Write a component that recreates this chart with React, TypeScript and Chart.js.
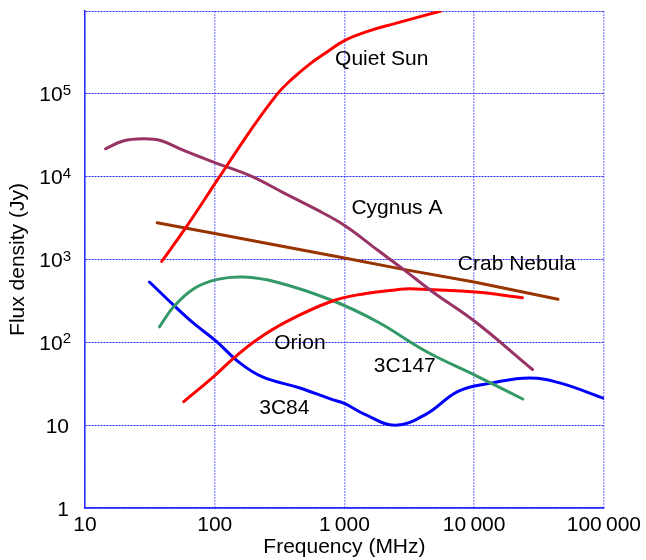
import React, { useEffect, useRef } from "react";
import { Chart, registerables } from "chart.js";

Chart.register(...registerables);

const FONT = '"Liberation Sans", Arial, Helvetica, sans-serif';

// Axis ticks
const xTicks = [10, 100, 1000, 10000, 100000];
const xTickLabels = ["10", "100", "1\u2009000", "10\u2009000", "100\u2009000"];
const yTicks = [1, 10, 100, 1000, 10000, 100000, 1000000];
const yTickBase = ["1", "10", "10", "10", "10", "10", ""];
const yTickExp = ["", "", "2", "3", "4", "5", ""];

// Series (frequency in MHz, flux density in Jy)
const quietSunFreq = [39, 60, 109, 189, 300, 378, 536, 757, 1000, 1508, 2400, 5540];
const quietSunFlux = [946, 2440, 10000, 36300, 97200, 142000, 227000, 331000, 440000, 568000, 700000, 1000000];

const cygnusFreq = [14.4, 19.7, 28, 38.3, 58.2, 100, 189, 337, 601, 1010, 1800, 2850, 4800, 10200, 28200];
const cygnusFlux = [21700, 27000, 28700, 27300, 20600, 14800, 10200, 6430, 4050, 2560, 1300, 760, 405, 177, 47];

const crabFreq = [36, 100, 1000, 2850, 10000, 44300];
const crabFlux = [2780, 2060, 1040, 760, 535, 331];

const orionFreq = [57.7, 98.6, 140, 210, 355, 798, 1425, 2540, 3200, 10200, 23600];
const orionFlux = [19.2, 38.9, 64.4, 107, 177, 313, 387, 432, 444, 405, 346];

const c3c147Freq = [37.5, 48.2, 69, 105, 166, 298, 798, 1795, 4270, 10200, 23700];
const c3c147Flux = [154, 268, 444, 575, 614, 535, 322, 177, 77.5, 40, 20.7];

const c3c84Freq = [31.4, 48.2, 69, 102, 157, 236, 447, 798, 1007, 1425, 2470, 4270, 7590, 13800, 26600, 45600, 100000];
const c3c84Flux = [535, 281, 169, 104, 56.1, 37.9, 28.3, 20.5, 18.2, 13.6, 10, 13.6, 25.8, 32.4, 37.2, 32.4, 21.1];

const seriesNames = ["Quiet Sun", "Cygnus A", "Crab Nebula", "Orion", "3C147", "3C84"];
const seriesColors = ["#ff0000", "#993366", "#993300", "#ff0000", "#339966", "#0000ff"];
const seriesTension = [0.4, 0.4, 0, 0.4, 0.4, 0.4];

// Curve label anchors (data coordinates)
const labelFreq = [1940, 2540, 21300, 454, 2920, 344];
const labelFlux = [260000, 4200, 878, 96.5, 51.3, 16.2];

const curveLabelPlugin = {
  id: "curveLabels",
  afterDatasetsDraw(chart: any) {
    const { ctx, scales } = chart;
    ctx.save();
    ctx.fillStyle = "#000";
    ctx.font = `21px ${FONT}`;
    ctx.textAlign = "center";
    ctx.textBaseline = "middle";
    seriesNames.forEach((name, i) => {
      const px = scales.x.getPixelForValue(labelFreq[i]);
      const py = scales.y.getPixelForValue(labelFlux[i]);
      ctx.fillText(name, px, py);
    });
    ctx.restore();
  },
};

const yLabelPlugin = {
  id: "yLabels",
  afterDraw(chart: any) {
    const { ctx, scales } = chart;
    ctx.save();
    ctx.fillStyle = "#000";
    ctx.textBaseline = "alphabetic";
    yTicks.forEach((v, i) => {
      const base = yTickBase[i];
      if (!base) return;
      const exp = yTickExp[i];
      const py = scales.y.getPixelForValue(v);
      ctx.font = `21px ${FONT}`;
      const bw = ctx.measureText(base).width;
      if (exp) {
        ctx.font = `15px ${FONT}`;
        const ew = ctx.measureText(exp).width;
        const right = 71;
        ctx.textAlign = "left";
        ctx.fillText(exp, right - ew, py + 1);
        ctx.font = `21px ${FONT}`;
        ctx.fillText(base, right - ew - bw, py + 7.5);
      } else {
        ctx.textAlign = "right";
        ctx.fillText(base, 69, py + 7.5);
      }
    });
    ctx.restore();
  },
};

export default function App() {
  const ref = useRef<HTMLCanvasElement>(null);

  useEffect(() => {
    const canvas = ref.current;
    if (!canvas) return;
    const freqs = [quietSunFreq, cygnusFreq, crabFreq, orionFreq, c3c147Freq, c3c84Freq];
    const fluxes = [quietSunFlux, cygnusFlux, crabFlux, orionFlux, c3c147Flux, c3c84Flux];

    const chart = new Chart(canvas, {
      type: "line",
      data: {
        datasets: seriesNames.map((name, i) => ({
          label: name,
          data: freqs[i].map((f, j) => ({ x: f, y: fluxes[i][j] })),
          borderColor: seriesColors[i],
          backgroundColor: seriesColors[i],
          borderWidth: 3,
          pointRadius: 0,
          fill: false,
          tension: seriesTension[i],
          borderCapStyle: "round" as const,
          borderJoinStyle: "round" as const,
        })),
      },
      options: {
        responsive: false,
        animation: false,
        devicePixelRatio: 1,
        layout: { padding: { top: 11, right: 39, bottom: 0, left: 0 } },
        plugins: {
          legend: { display: false },
          tooltip: { enabled: false },
        },
        scales: {
          x: {
            type: "logarithmic",
            min: 10,
            max: 100000,
            afterBuildTicks: (s: any) => {
              s.ticks = xTicks.map((v) => ({ value: v }));
            },
            afterFit: (s: any) => {
              s.height = 52;
            },
            ticks: {
              autoSkip: false,
              maxRotation: 0,
              minRotation: 0,
              padding: 5,
              color: "#000",
              font: { family: FONT, size: 21 },
              callback: (v: any) => {
                const idx = xTicks.indexOf(Number(v));
                return idx >= 0 ? xTickLabels[idx] : "";
              },
            },
            grid: { color: "#9a9aff", lineWidth: 1.5, drawTicks: false },
            border: { display: true, color: "#2a2aff", width: 1.5, dash: [2, 1] },
            title: {
              display: true,
              text: "Frequency (MHz)",
              color: "#000",
              font: { family: FONT, size: 21 },
              padding: { top: 0, bottom: 0 },
            },
          },
          y: {
            type: "logarithmic",
            min: 1,
            max: 1000000,
            afterBuildTicks: (s: any) => {
              s.ticks = yTicks.map((v) => ({ value: v }));
            },
            afterFit: (s: any) => {
              s.width = 85;
            },
            ticks: { display: false },
            grid: { color: "#2a2aff", lineWidth: 1, drawTicks: false },
            border: { display: true, color: "#2a2aff", width: 1.5, dash: [2, 1] },
            title: {
              display: true,
              text: "Flux density (Jy)",
              color: "#000",
              font: { family: FONT, size: 21 },
              padding: { top: 6, bottom: 0 },
            },
          },
        },
      } as any,
      plugins: [curveLabelPlugin, yLabelPlugin],
    });

    return () => chart.destroy();
  }, []);

  return (
    <div style={{ position: "absolute", left: 0, top: 0, width: 646, height: 560, background: "#fff" }}>
      <canvas ref={ref} width={646} height={560} style={{ display: "block", width: 646, height: 560 }} />
    </div>
  );
}
